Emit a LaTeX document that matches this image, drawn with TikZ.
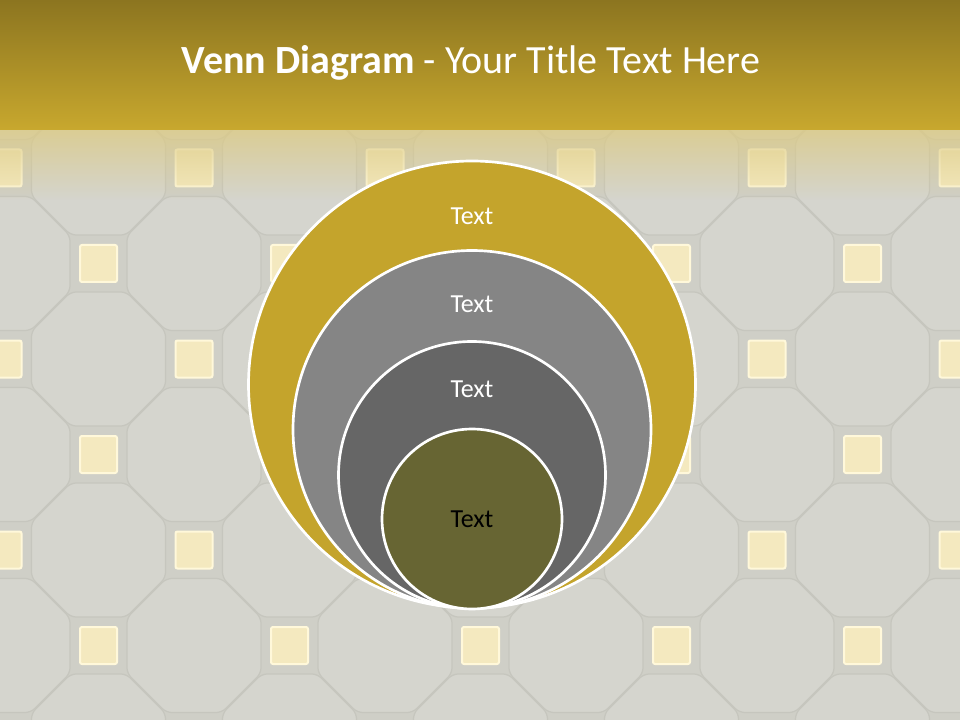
\documentclass[tikz,border=0pt]{standalone}
\usepackage{fontspec}
\setmainfont{Carlito}
\usetikzlibrary{fadings}
\definecolor{bandtop}{HTML}{8C7520}
\definecolor{bandbot}{HTML}{C8A82E}
\definecolor{fadegold}{HTML}{DCCB86}
\definecolor{bgbase}{HTML}{CFCFC7}
\definecolor{octfill}{HTML}{D5D5CE}
\definecolor{octline}{HTML}{C6C6BE}
\definecolor{tilesq}{HTML}{F4E9BF}
\definecolor{tileedge}{HTML}{FFF8DA}
\definecolor{goldc}{HTML}{C4A42C}
\definecolor{greyA}{HTML}{858585}
\definecolor{greyB}{HTML}{666666}
\definecolor{olivec}{HTML}{676533}
\tikzfading[name=bandfade, top color=transparent!20, bottom color=transparent!100]
\tikzset{
  octa/.pic={\filldraw[fill=octfill, draw=octline, line width=0.9pt, rounded corners=4pt]
     (22.5:72.5) -- (67.5:72.5) -- (112.5:72.5) -- (157.5:72.5) -- (202.5:72.5) -- (247.5:72.5) -- (292.5:72.5) -- (337.5:72.5) -- cycle;},
  sqtile/.pic={\filldraw[fill=tilesq, draw=tileedge, line width=1.5pt, rounded corners=1.5pt] (-18.5,-18.5) rectangle (18.5,18.5);},
  ring/.style={draw=white, line width=2pt},
  lbl/.style={anchor=base, font=\fontsize{19.5}{23}\selectfont},
}
\begin{document}
\begin{tikzpicture}[x=0.75pt,y=-0.75pt]
\useasboundingbox (0,0) rectangle (960,720);
\fill[bgbase] (0,0) rectangle (960,720);
\begin{scope}
\clip (0,0) rectangle (960,720);
\foreach \i in {-1,...,10} {
  \foreach \j in {-1,...,6} {
    \pgfmathsetmacro\cx{3+95.5*\i}
    \pgfmathsetmacro\cy{168+95.5*\j}
    \pgfmathtruncatemacro\tpar{mod(\i+\j+20,2)}
    \ifnum\tpar=1
      \pic at (\cx,\cy) {octa};
    \else
      \pic at (\cx,\cy) {sqtile};
    \fi
  }
}
\end{scope}
\shade[top color=bandtop, bottom color=bandbot] (0,0) rectangle (960,130);
\fill[fadegold, path fading=bandfade] (0,130) rectangle (960,200);
\node[anchor=base, text=white, font=\fontsize{30}{36}\selectfont] (title) at (471,74) {\textbf{Venn Diagram} - Your Title Text Here};
\draw[ring, fill=goldc] (472,384.5) circle[radius=223.5];
\draw[ring, fill=greyA] (472,429.5) circle[radius=179];
\draw[ring, fill=greyB] (472,475) circle[radius=133.5];
\draw[ring, fill=olivec] (472,519) circle[radius=90];
\node[lbl, text=white] (t1) at (472,225) {Text};
\node[lbl, text=white] (t2) at (472,312) {Text};
\node[lbl, text=white] (t3) at (472,397) {Text};
\node[lbl, text=black] (t4) at (472,527) {Text};
\end{tikzpicture}
\end{document}
